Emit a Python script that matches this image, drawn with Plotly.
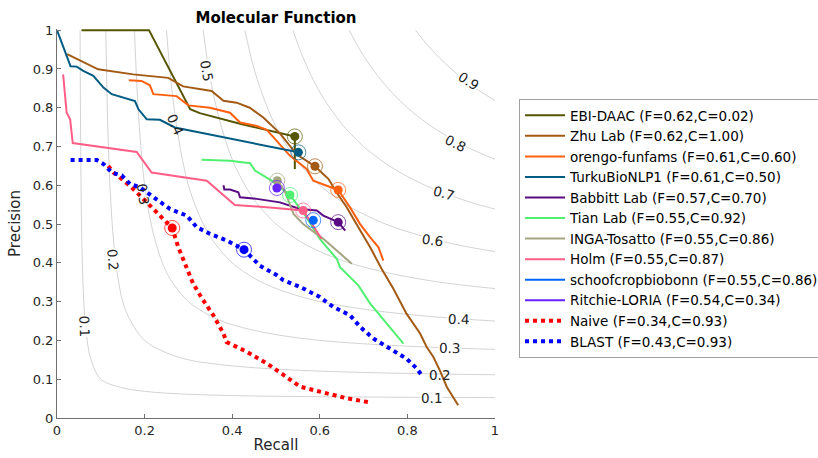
import numpy as np
import plotly.graph_objects as go

# ---------------- data ----------------
teams = ["EBI-DAAC", "Zhu Lab", "orengo-funfams", "TurkuBioNLP1", "Babbitt Lab",
         "Tian Lab", "INGA-Tosatto", "Holm", "schoofcropbiobonn", "Ritchie-LORIA",
         "Naive", "BLAST"]
fmax = [0.62, 0.62, 0.61, 0.61, 0.57, 0.55, 0.55, 0.55, 0.55, 0.54, 0.34, 0.43]
coverage = [0.02, 1.00, 0.60, 0.50, 0.70, 0.92, 0.86, 0.87, 0.86, 0.34, 0.93, 0.93]

ebi_r = [0.056, 0.21, 0.304, 0.326, 0.42, 0.509, 0.543, 0.543]
ebi_p = [1.0, 1.0, 0.796, 0.786, 0.758, 0.734, 0.726, 0.642]

zhu_r = [0.023, 0.094, 0.174, 0.254, 0.288, 0.353, 0.38, 0.41, 0.44, 0.471, 0.509, 0.547,
         0.589, 0.62, 0.638, 0.661, 0.688, 0.715, 0.741, 0.768, 0.798, 0.829, 0.844, 0.859,
         0.874, 0.89, 0.916]
zhu_p = [0.938, 0.899, 0.886, 0.877, 0.855, 0.843, 0.818, 0.813, 0.80, 0.775, 0.734, 0.68,
         0.649, 0.616, 0.582, 0.544, 0.492, 0.44, 0.385, 0.333, 0.269, 0.218, 0.183, 0.158,
         0.123, 0.08, 0.033]

orengo_r = [0.164, 0.193, 0.212, 0.22, 0.273, 0.30, 0.349, 0.395, 0.418, 0.456, 0.479, 0.509,
            0.532, 0.57, 0.585, 0.616, 0.642, 0.669, 0.692, 0.715, 0.734, 0.745]
orengo_p = [0.871, 0.869, 0.858, 0.835, 0.83, 0.806, 0.80, 0.787, 0.762, 0.753, 0.743, 0.705,
            0.676, 0.642, 0.612, 0.599, 0.588, 0.543, 0.50, 0.466, 0.44, 0.406]

turku_r = [0.0, 0.031, 0.045, 0.06, 0.083, 0.106, 0.125, 0.178, 0.186, 0.205, 0.235, 0.269, 0.551]
turku_p = [1.0, 0.907, 0.906, 0.895, 0.882, 0.852, 0.835, 0.817, 0.796, 0.77, 0.769, 0.749, 0.685]

babbitt_r = [0.38, 0.382, 0.395, 0.414, 0.418, 0.456, 0.509, 0.524, 0.555, 0.593, 0.608, 0.642, 0.658]
babbitt_p = [0.60, 0.589, 0.589, 0.582, 0.569, 0.565, 0.556, 0.55, 0.539, 0.535, 0.522, 0.505, 0.483]

tian_r = [0.33, 0.395, 0.441, 0.452, 0.49, 0.515, 0.532, 0.547, 0.57, 0.60, 0.639, 0.646,
          0.669, 0.688, 0.715, 0.753, 0.791]
tian_p = [0.666, 0.663, 0.657, 0.638, 0.612, 0.59, 0.575, 0.552, 0.517, 0.462, 0.41, 0.389,
          0.363, 0.342, 0.295, 0.243, 0.192]

inga_r = [0.503, 0.52, 0.54, 0.562, 0.608, 0.639, 0.673]
inga_p = [0.612, 0.585, 0.526, 0.50, 0.462, 0.432, 0.398]

holm_r = [0.014, 0.022, 0.03, 0.036, 0.182, 0.216, 0.342, 0.365, 0.406, 0.486, 0.562, 0.604]
holm_p = [0.886, 0.787, 0.77, 0.709, 0.686, 0.633, 0.612, 0.59, 0.549, 0.543, 0.535, 0.462]

schoof_r = [0.585]
schoof_p = [0.51]

ritchie_r = [0.502]
ritchie_p = [0.593]

naive_r = [0.117, 0.129, 0.148, 0.17, 0.205, 0.243, 0.263, 0.277, 0.292, 0.311, 0.334, 0.357,
           0.38, 0.387, 0.433, 0.479, 0.517, 0.555, 0.60, 0.661, 0.715]
naive_p = [0.65, 0.633, 0.616, 0.595, 0.556, 0.513, 0.49, 0.44, 0.398, 0.346, 0.303, 0.265,
           0.218, 0.196, 0.171, 0.141, 0.111, 0.081, 0.068, 0.051, 0.04]

blast_r = [0.031, 0.091, 0.106, 0.125, 0.148, 0.167, 0.189, 0.22, 0.258, 0.296, 0.319, 0.349,
           0.387, 0.427, 0.463, 0.502, 0.517, 0.555, 0.60, 0.631, 0.669, 0.692, 0.722, 0.76,
           0.798, 0.821, 0.833]
blast_p = [0.665, 0.665, 0.655, 0.633, 0.625, 0.603, 0.595, 0.57, 0.539, 0.522, 0.492, 0.475,
           0.458, 0.434, 0.393, 0.368, 0.355, 0.338, 0.312, 0.286, 0.265, 0.235, 0.205, 0.179,
           0.153, 0.128, 0.11]

# F-max operating points
fmax_r = [0.543, 0.589, 0.642, 0.551, 0.642, 0.532, 0.503, 0.562, 0.585, 0.502, 0.263, 0.427]
fmax_p = [0.726, 0.649, 0.588, 0.685, 0.505, 0.575, 0.612, 0.535, 0.51, 0.593, 0.49, 0.434]

curves_r = [ebi_r, zhu_r, orengo_r, turku_r, babbitt_r, tian_r, inga_r, holm_r,
            schoof_r, ritchie_r, naive_r, blast_r]
curves_p = [ebi_p, zhu_p, orengo_p, turku_p, babbitt_p, tian_p, inga_p, holm_p,
            schoof_p, ritchie_p, naive_p, blast_p]

# iso-F levels and axis ticks
f_levels = [0.1, 0.2, 0.3, 0.4, 0.5, 0.6, 0.7, 0.8, 0.9]
x_ticks = [0, 0.2, 0.4, 0.6, 0.8, 1]
x_tick_text = ["0", "0.2", "0.4", "0.6", "0.8", "1"]
y_ticks = [0, 0.1, 0.2, 0.3, 0.4, 0.5, 0.6, 0.7, 0.8, 0.9, 1]
y_tick_text = ["0", "0.1", "0.2", "0.3", "0.4", "0.5", "0.6", "0.7", "0.8", "0.9", "1"]

# ---------------- styles ----------------
colors = ["#555500", "#a35a14", "#ff6010", "#005b82", "#5a0a82", "#50f070",
          "#a5a582", "#ff5f87", "#0066ff", "#6622ff", "#ff0000", "#0000ff"]
dashes = ["solid"] * 10 + ["dot", "dot"]
widths = [2] * 10 + [4, 4]

# label (text, x, y, angle, mask background)
contour_labels = [
    ("0.1", 0.064, 0.238, 88, True), ("0.2", 0.128, 0.41, 86, True),
    ("0.3", 0.197, 0.578, 82, False), ("0.4", 0.27, 0.758, 66, False),
    ("0.5", 0.342, 0.895, 80, True), ("0.9", 0.94, 0.869, 33, True),
    ("0.8", 0.909, 0.71, 26, True), ("0.7", 0.882, 0.579, 16, True),
    ("0.6", 0.857, 0.46, 8, True), ("0.4", 0.916, 0.254, 2, True),
    ("0.3", 0.897, 0.18, 1, True), ("0.2", 0.874, 0.11, 0, False),
    ("0.1", 0.854, 0.051, 0, True),
]

FONT = "DejaVu Sans"
PLOT_L, PLOT_R, PLOT_T, PLOT_B = 57, 495, 29, 418
W, H = 818, 458

fig = go.Figure()

# iso-F contour background
g = np.linspace(0, 1, 21)
R, P = np.meshgrid(g, g)
den = P + R
F = np.where(den > 0, 2 * P * R / np.where(den > 0, den, 1), 0)
fig.add_trace(go.Contour(
    x=g, y=g, z=F,
    contours=dict(start=f_levels[0], end=f_levels[-1], size=0.1, coloring="lines", showlabels=False),
    colorscale=[[0, "#c8c8c8"], [1, "#c8c8c8"]],
    line=dict(width=0.8), showscale=False, hoverinfo="skip", showlegend=False,
))

for i, name in enumerate(teams):
    label = f"{name} (F={fmax[i]:.2f},C={coverage[i]:.2f})"
    fig.add_trace(go.Scatter(
        x=curves_r[i], y=curves_p[i], mode="lines", name=label,
        line=dict(color=colors[i], width=widths[i], dash=dashes[i]),
        showlegend=True,
    ))

for i, name in enumerate(teams):
    fig.add_trace(go.Scatter(
        x=[fmax_r[i]], y=[fmax_p[i]], mode="markers",
        marker=dict(symbol="circle-open", size=15, color=colors[i], line=dict(width=1, color=colors[i])),
        opacity=0.7, showlegend=False, hoverinfo="skip",
    ))
    fig.add_trace(go.Scatter(
        x=[fmax_r[i]], y=[fmax_p[i]], mode="markers",
        marker=dict(symbol="circle", size=9, color=colors[i], line=dict(width=0)),
        showlegend=False, hoverinfo="skip",
    ))

for txt, lx, ly, ang, mask in contour_labels:
    fig.add_annotation(
        x=lx, y=ly, xref="x", yref="y", text=txt, showarrow=False, textangle=ang,
        font=dict(family=FONT, size=13.5, color="#222222"),
        bgcolor="white" if mask else "rgba(0,0,0,0)", borderpad=0,
    )

axis_common = dict(
    showgrid=False, zeroline=False, showline=True, linecolor="#707070", linewidth=1,
    ticks="inside", ticklen=4, tickcolor="#707070",
    tickfont=dict(family=FONT, size=13, color="#262626"),
    title_font=dict(family=FONT, size=15, color="#262626"),
    mirror=False, automargin=False,
)

pw = PLOT_R - PLOT_L
ph = PLOT_B - PLOT_T
fig.update_layout(
    width=W, height=H, autosize=False,
    margin=dict(l=PLOT_L, r=W - PLOT_R, t=PLOT_T, b=H - PLOT_B, autoexpand=False),
    paper_bgcolor="white", plot_bgcolor="white",
    title=dict(text="<b>Molecular Function</b>", x=0.5, xref="paper", xanchor="center",
               y=1 - 18 / H, yref="container", yanchor="middle",
               font=dict(family=FONT, size=15, color="#000000")),
    xaxis=dict(range=[0, 1.0], tickvals=x_ticks, ticktext=x_tick_text,
               title=dict(text="Recall", standoff=2), **axis_common),
    yaxis=dict(range=[0, 1.003], tickvals=y_ticks, ticktext=y_tick_text,
               title=dict(text="Precision", standoff=8), **axis_common),
    legend=dict(x=(519 - PLOT_L) / pw, y=(PLOT_B - 99) / ph,
                xanchor="left", yanchor="top",
                bordercolor="#a0a0a0", borderwidth=1, bgcolor="white",
                font=dict(family=FONT, size=13.5, color="#000000"),
                itemwidth=40),
    showlegend=True,
)

fig.write_html("out.html")
